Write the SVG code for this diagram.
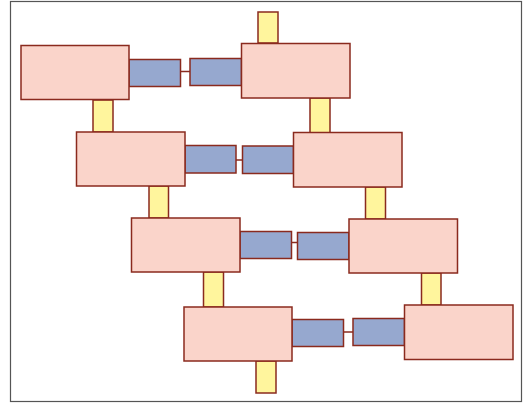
<svg xmlns="http://www.w3.org/2000/svg" width="523" height="403" viewBox="0 0 523 403">
<style>
.n{fill:#fad4ca;stroke:#8a2a1e;stroke-width:1.5}
.b{fill:#96a8cf;stroke:#8a2a1e;stroke-width:1.5}
.y{fill:#fff59d;stroke:#8a2a1e;stroke-width:1.5}
.c{stroke:#8a2a1e;stroke-width:1.5;fill:none}
</style>
<rect x="10.5" y="1.5" width="511" height="400" fill="#fff" stroke="#555" stroke-width="1.2"/>
<g id="connectors">
<line class="c" x1="180" y1="71.5" x2="190" y2="71.5"/>
<line class="c" x1="236" y1="160" x2="242" y2="160"/>
<line class="c" x1="291.5" y1="242.5" x2="297.5" y2="242.5"/>
<line class="c" x1="343.5" y1="332" x2="353" y2="332"/>
</g>
<g id="pipe-top"><rect class="y" x="258" y="12" width="20" height="31"/></g>
<g id="pipe-1-3"><rect class="y" x="93" y="100" width="20" height="32"/></g>
<g id="pipe-2-4"><rect class="y" x="310" y="98" width="20" height="35"/></g>
<g id="pipe-3-5"><rect class="y" x="149" y="186" width="19.5" height="32"/></g>
<g id="pipe-4-6"><rect class="y" x="365.5" y="187" width="20" height="32"/></g>
<g id="pipe-5-7"><rect class="y" x="203.5" y="272" width="20" height="35"/></g>
<g id="pipe-6-8"><rect class="y" x="421.5" y="273" width="19.5" height="32"/></g>
<g id="pipe-bottom"><rect class="y" x="256" y="361" width="20" height="32"/></g>
<g id="port-1a"><rect class="b" x="129" y="59.5" width="51.5" height="27"/></g>
<g id="port-1b"><rect class="b" x="190" y="58.5" width="51.5" height="27"/></g>
<g id="port-2a"><rect class="b" x="185" y="145.5" width="51" height="27.5"/></g>
<g id="port-2b"><rect class="b" x="242.5" y="146" width="51" height="27.5"/></g>
<g id="port-3a"><rect class="b" x="240" y="231.5" width="51.5" height="27"/></g>
<g id="port-3b"><rect class="b" x="297.5" y="232.5" width="51.5" height="27"/></g>
<g id="port-4a"><rect class="b" x="292" y="319.5" width="51.5" height="27"/></g>
<g id="port-4b"><rect class="b" x="353" y="318.5" width="51.5" height="27"/></g>
<g id="node1"><rect class="n" x="21" y="45.5" width="108" height="54"/></g>
<g id="node2"><rect class="n" x="241.5" y="43.5" width="108.5" height="54.5"/></g>
<g id="node3"><rect class="n" x="76.5" y="132" width="108.5" height="54"/></g>
<g id="node4"><rect class="n" x="293.5" y="132.5" width="108.5" height="54.5"/></g>
<g id="node5"><rect class="n" x="131.5" y="218" width="108.5" height="54"/></g>
<g id="node6"><rect class="n" x="349" y="219" width="108.5" height="54"/></g>
<g id="node7"><rect class="n" x="184" y="307" width="108" height="54"/></g>
<g id="node8"><rect class="n" x="404.5" y="305" width="108.5" height="54.5"/></g>
</svg>
